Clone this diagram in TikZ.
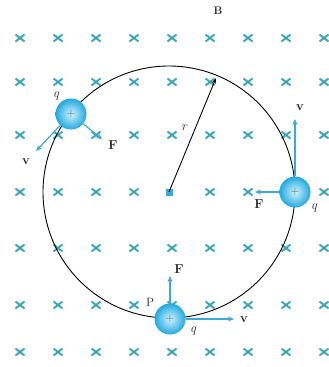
\documentclass[tikz,border=0pt]{standalone}
\usetikzlibrary{arrows.meta}
\definecolor{crossc}{HTML}{3AA6B9}
\definecolor{arrc}{HTML}{3CA9D8}
\definecolor{chgin}{HTML}{CFF4FD}
\definecolor{chgout}{HTML}{22A8E0}
\definecolor{labc}{HTML}{2A2020}
\begin{document}
\begin{tikzpicture}[x=1pt,y=-1pt,
  xmark/.style={crossc,line width=1.9pt},
  charge/.style={circle,minimum size=31pt,inner sep=0pt,shading=radial,
    inner color=chgin,outer color=chgout,text=black!70,font=\fontsize{11}{11}\selectfont},
  arr/.style={arrc,line width=1.2pt,-{Stealth[length=6pt,width=5pt]}},
  vec/.style={text=labc,font=\fontsize{13}{15}\selectfont\bfseries,inner sep=0pt},
  sym/.style={text=labc,font=\fontsize{12}{14}\selectfont,inner sep=0pt},
  it/.style={sym,font=\fontsize{13}{15}\selectfont\itshape},
  orbit/.style={black,line width=0.9pt},
  rad/.style={black,line width=0.9pt,-{Stealth[length=6pt,width=4pt]}}
]
\useasboundingbox (0,0) rectangle (329,367);
\fill[white] (0,0) rectangle (329,367);
% field crosses
\foreach \y in {38,82,135,192,248,305,352}{
  \foreach \x in {20,58,96,134,172,210,248,286,324}{
    \ifnum\x=172 \ifnum\y=192 \else
      \draw[xmark] (\x-4.5,\y-3.5) -- (\x+4.5,\y+3.5) (\x-4.5,\y+3.5) -- (\x+4.5,\y-3.5);
    \fi\else
      \draw[xmark] (\x-4.5,\y-3.5) -- (\x+4.5,\y+3.5) (\x-4.5,\y+3.5) -- (\x+4.5,\y-3.5);
    \fi
  }
}
\node[sym,font=\fontsize{11}{13}\selectfont\bfseries] (B) at (218,11) {B};
% orbit
\coordinate (O) at (169,192);
\draw[orbit] (O) circle[radius=126pt];
\fill[arrc] (165.5,188.5) rectangle (172.5,195.5);
\coordinate (rtip) at (216,78);
\draw[rad] (O) -- (rtip);
\node[it] (r) at (184,128) {r};
% charges
\node[charge] (c1) at (71,114) {+};
\node[charge] (c2) at (295,192) {+};
\node[charge] (c3) at (170,319) {+};
% top-left charge
\coordinate (v1) at (36,151);
\coordinate (f1) at (102,139);
\draw[arr] (c1) -- (v1);
\draw[arr] (c1) -- (f1);
\node[it] (q1) at (56,96) {q};
\node[vec] (lv1) at (26,162) {v};
\node[vec] (lf1) at (113,145) {F};
% right charge
\coordinate (v2) at (295,119);
\coordinate (f2) at (255,192);
\draw[arr] (c2) -- (v2);
\draw[arr] (c2) -- (f2);
\node[vec] (lv2) at (300,108) {v};
\node[vec] (lf2) at (259,204) {F};
\node[it] (q2) at (314,208) {q};
% bottom charge
\coordinate (f3) at (170,276);
\coordinate (v3) at (234,319);
\draw[arr] (c3) -- (f3);
\draw[arr] (c3) -- (v3);
\node[vec] (lf3) at (179,269) {F};
\node[vec] (lv3) at (244,320) {v};
\node[sym] (P) at (150,302) {P};
\node[it] (q3) at (193,331) {q};
\end{tikzpicture}
\end{document}
